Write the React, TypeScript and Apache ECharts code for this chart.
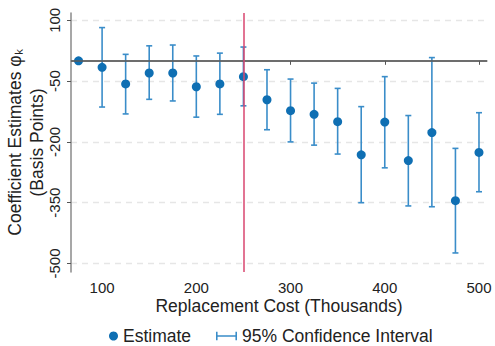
import React, { useEffect, useRef } from "react";
import * as echarts from "echarts";

const costs = [75, 100, 125, 150, 175, 200, 225, 250, 275, 300, 325, 350, 375, 400, 425, 450, 475, 500];
const estimates = [0, -16, -57, -30, -30, -64, -57, -39, -96, -123, -132, -150, -232, -151, -246, -177, -345, -226];
const ciUpper = [null, 82, 16, 37, 39, 12, 19, 34, -22, -45, -55, -68, -113, -39, -135, 8, -216, -128];
const ciLower = [null, -114, -131, -95, -99, -139, -132, -111, -170, -200, -208, -230, -350, -264, -358, -360, -474, -323];
const xTicks = [100, 200, 300, 400, 500];
const yTicks = [-500, -350, -200, -50, 100];

const DOT = "#0f6fb3";
const BAR = "#3a8dc9";
const FONT = "Liberation Sans, Arial, Helvetica, sans-serif";

export default function App() {
  const ref = useRef<HTMLDivElement>(null);
  useEffect(() => {
    document.body.style.margin = "0";
    if (!ref.current) return;
    const chart = echarts.init(ref.current, null, { renderer: "svg" });
    const ciData = costs
      .map((c, i) => [c, ciLower[i], ciUpper[i]])
      .filter((d) => d[1] !== null);
    const legendText = { fontSize: 17.5, color: "#222", fontFamily: FONT, lineHeight: 16 };
    chart.setOption({
      animation: false,
      textStyle: { fontFamily: FONT },
      grid: { left: 71, right: 8, top: 13, bottom: 74, containLabel: false, outerBoundsMode: "none" },
      xAxis: {
        type: "value",
        min: 67,
        max: 508.5,
        name: "Replacement Cost (Thousands)",
        nameLocation: "middle",
        nameGap: 25,
        nameMoveOverlap: false,
        nameTextStyle: { fontSize: 17.5, color: "#222", fontFamily: FONT },
        axisLine: { show: true, lineStyle: { color: "#8a8a8a", width: 1.5 } },
        axisTick: { show: true, customValues: xTicks, length: 4, lineStyle: { color: "#555" } },
        axisLabel: { customValues: xTicks, fontSize: 15, color: "#222", margin: 8, fontFamily: FONT },
        splitLine: { show: false },
      },
      yAxis: {
        type: "value",
        min: -521,
        max: 118,
        name: "Coefficient Estimates φₖ\n(Basis Points)",
        nameLocation: "middle",
        nameGap: 23,
        nameMoveOverlap: false,
        nameTextStyle: { fontSize: 17.5, color: "#222", lineHeight: 22, fontFamily: FONT },
        axisLine: { show: true, lineStyle: { color: "#8a8a8a", width: 1.5 } },
        axisTick: { show: true, customValues: yTicks, length: 4, lineStyle: { color: "#555" } },
        axisLabel: { customValues: yTicks, fontSize: 15, color: "#222", rotate: 90, margin: 9, fontFamily: FONT },
        splitLine: { show: true, lineStyle: { color: "#e6e6e6", type: [6, 5], width: 1.3 } },
      },
      legend: [
        {
          top: 327,
          left: 109,
          padding: 0,
          itemWidth: 9,
          itemHeight: 9,
          textStyle: legendText,
          data: [{ name: "Estimate", icon: "circle", itemStyle: { color: DOT } }],
        },
        {
          top: 327,
          left: 216,
          padding: 0,
          itemWidth: 21,
          itemHeight: 9,
          textStyle: legendText,
          data: [
            {
              name: "95% Confidence Interval",
              icon: "path://M0,2h1.5v8h-1.5z M0,5.3h20v1.4h-20z M18.5,2h1.5v8h-1.5z",
              itemStyle: { color: BAR },
            },
          ],
        },
      ],
      series: [
        {
          name: "95% Confidence Interval",
          type: "custom",
          z: 2,
          data: ciData,
          encode: { x: 0, y: [1, 2] },
          renderItem: (params: any, api: any) => {
            const x = api.value(0);
            const lo = api.coord([x, api.value(1)]);
            const hi = api.coord([x, api.value(2)]);
            const w = 3;
            const style = { stroke: BAR, lineWidth: 1.6 };
            return {
              type: "group",
              children: [
                { type: "line", shape: { x1: lo[0], y1: lo[1], x2: hi[0], y2: hi[1] }, style },
                { type: "line", shape: { x1: lo[0] - w, y1: lo[1], x2: lo[0] + w, y2: lo[1] }, style },
                { type: "line", shape: { x1: hi[0] - w, y1: hi[1], x2: hi[0] + w, y2: hi[1] }, style },
              ],
            };
          },
        },
        {
          name: "Estimate",
          type: "scatter",
          z: 3,
          symbolSize: 9,
          itemStyle: { color: DOT, opacity: 1 },
          data: costs.map((c, i) => [c, estimates[i]]),
          markLine: {
            silent: true,
            symbol: "none",
            label: { show: false },
            data: [
              { yAxis: 0, lineStyle: { color: "#5a5a5a", width: 1.6, type: "solid" } },
              { xAxis: 250, lineStyle: { color: "#d9466f", width: 1.5, type: "solid" } },
            ],
          },
        },
      ],
    });
    return () => chart.dispose();
  }, []);
  return <div ref={ref} style={{ width: 495, height: 346 }} />;
}
